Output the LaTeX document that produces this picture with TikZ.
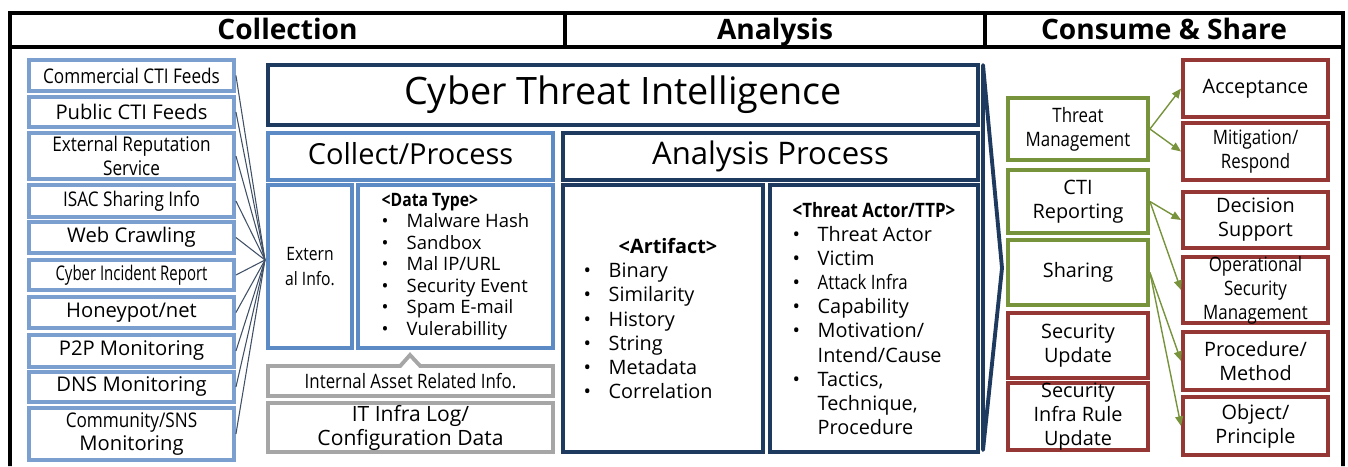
\documentclass[tikz,border=0pt]{standalone}
\usepackage{fontspec}
\setmainfont{Open Sans}
\newfontfamily\condfont{Open Sans}[FakeStretch=0.85]
\newfontfamily\xcondfont{Open Sans}[FakeStretch=0.74]
\usetikzlibrary{arrows.meta, positioning, shapes.callouts}
\definecolor{Cnavy}{HTML}{1F3A5F}
\definecolor{Cblue}{HTML}{5B8AC4}
\definecolor{Csrc}{HTML}{7BA0CF}
\definecolor{Cgreen}{HTML}{77933C}
\definecolor{Cred}{HTML}{953735}
\definecolor{Cgray}{HTML}{A6A6A6}
\definecolor{Cline}{HTML}{3F4F66}
\newcommand{\itm}{\makebox[0.5cm][l]{\textbullet}}
\newcommand{\itmc}{\hspace*{0.5cm}}
\tikzset{
  hdrbox/.style={draw=black, line width=2.2pt, outer sep=0pt, minimum height=0.68cm,
    text height=2.2ex, text depth=0.1ex, font=\fontsize{16}{18}\selectfont\bfseries},
  frame/.style={draw=black, line width=2.2pt},
  ttl/.style={text height=2.2ex, text depth=0.6ex},
  srcbox/.style={draw=Csrc, line width=2.2pt, fill=white, minimum width=4.1cm,
    align=center, inner sep=1pt, font=\fontsize{11.5}{13.5}\selectfont},
  cpbox/.style={draw=Cblue, line width=2.2pt, align=center, inner sep=1pt},
  navbox/.style={draw=Cnavy, line width=2.2pt, align=center, inner sep=1pt},
  grybox/.style={draw=Cgray, line width=2.2pt, align=center, inner sep=1pt,
    minimum width=5.7cm, font=\fontsize{12}{13.7}\selectfont},
  grnbox/.style={draw=Cgreen, line width=2.2pt, align=center, inner sep=1pt,
    minimum width=2.8cm, font=\fontsize{11.3}{13.7}\selectfont},
  redbox/.style={draw=Cred, line width=2.2pt, align=center, inner sep=1pt,
    minimum width=2.8cm, font=\fontsize{11.3}{13.7}\selectfont},
  tight/.style={inner ysep=-4pt},
  listtxt/.style={font=\fontsize{11.3}{13.7}\selectfont},
  feedline/.style={draw=Cline, line width=0.6pt},
  outarr/.style={-{Triangle[length=5.5pt, width=4.5pt]}, Cgreen, line width=0.8pt},
}
\begin{document}
\begin{tikzpicture}
\useasboundingbox (0,0) rectangle (26.96,-9.32);

%%==========================================================================
%% HEADER ROW
%%==========================================================================
\node[hdrbox, minimum width=11.1cm] (hcol) at (5.75,-0.6)  {Collection};
\node[hdrbox, minimum width=8.4cm]  (hana) at (15.5,-0.6)  {Analysis};
\node[hdrbox, minimum width=7.16cm] (hcon) at (23.28,-0.6) {Consume \& Share};
\coordinate (fbl) at (0.2,-9.32);
\coordinate (fbr) at (26.86,-9.32);
\draw[frame] (hcol.south west) -- (fbl);
\draw[frame] (hcon.south east) -- (fbr);

%%==========================================================================
%% COLLECTION — sources feeding external info
%%==========================================================================
\node[srcbox, minimum height=0.62cm] (s1)  at (2.63,-1.51) {\condfont Commercial CTI Feeds};
\node[srcbox, minimum height=0.6cm]  (s2)  at (2.63,-2.24) {Public CTI Feeds};
\node[srcbox, minimum height=0.92cm] (s3)  at (2.63,-3.12) {\condfont External Reputation\\\condfont Service};
\node[srcbox, minimum height=0.64cm] (s4)  at (2.63,-4.02) {\condfont ISAC Sharing Info};
\node[srcbox, minimum height=0.62cm] (s5)  at (2.63,-4.75) {Web Crawling};
\node[srcbox, minimum height=0.6cm]  (s6)  at (2.63,-5.5)  {\xcondfont Cyber Incident Report};
\node[srcbox, minimum height=0.62cm] (s7)  at (2.63,-6.25) {Honeypot/net};
\node[srcbox, minimum height=0.64cm] (s8)  at (2.63,-7.02) {P2P Monitoring};
\node[srcbox, minimum height=0.6cm]  (s9)  at (2.63,-7.74) {DNS Monitoring};
\node[srcbox, minimum height=1.04cm] (s10) at (2.63,-8.68) {\condfont Community/SNS\\Monitoring};

\coordinate (hub) at (5.3,-5.2);
\foreach \i in {1,...,10}
  \draw[feedline] (s\i.east) -- (hub);

%%==========================================================================
%% CYBER THREAT INTELLIGENCE core
%%==========================================================================
\node[navbox, minimum width=14.2cm, minimum height=1.2cm,
  font=\fontsize{21.5}{23}\selectfont] (cti) at (12.46,-1.9) {Cyber Threat Intelligence};

\node[cpbox, ttl, minimum width=5.7cm, minimum height=0.94cm,
  font=\fontsize{16.5}{18}\selectfont] (colp) at (8.21,-3.13) {Collect/Process};
\node[navbox, ttl, minimum width=8.3cm, minimum height=0.94cm,
  font=\fontsize{17.7}{19}\selectfont] (anap) at (15.41,-3.13) {Analysis Process};

\node[cpbox, minimum width=1.68cm, minimum height=3.26cm,
  font=\fontsize{10.5}{14}\selectfont\condfont] (ext) at (6.2,-5.33) {Extern\\al Info.};
\node[cpbox, minimum width=3.9cm, minimum height=3.26cm, align=left,
  font=\fontsize{10.5}{12.2}\selectfont] (dtype) at (9.11,-5.33)
  {\textbf{\condfont <Data Type>}\\
   \itm Malware Hash\\
   \itm Sandbox\\
   \itm Mal IP/URL\\
   \itm Security Event\\
   \itm Spam E-mail\\
   \itm Vulerabillity};

\node[grybox, minimum height=0.6cm, rectangle callout,
  callout absolute pointer={(8.2,-7.1)}, callout pointer width=0.4cm,
  font=\fontsize{11.3}{13}\selectfont\condfont]
  (intasset) at (8.21,-7.62) {Internal Asset Related Info.};
\node[grybox, minimum height=0.98cm] (itlog) at (8.21,-8.55)
  {IT Infra Log/\\Configuration Data};

\node[navbox, minimum width=4.0cm, minimum height=5.34cm, align=left, listtxt]
  (art) at (13.26,-6.37)
  {\hspace*{0.7cm}\textbf{<Artifact>}\hspace*{0.5cm}\\
   \itm Binary\\
   \itm Similarity\\
   \itm History\\
   \itm String\\
   \itm Metadata\\
   \itm Correlation};
\node[navbox, minimum width=4.16cm, minimum height=5.34cm, align=left, listtxt]
  (ttp) at (17.48,-6.37)
  {\textbf{\condfont <Threat Actor/TTP>}\\
   \itm Threat Actor\\
   \itm Victim\\
   \itm {\condfont Attack Infra}\\
   \itm Capability\\
   \itm Motivation/\\
   \itmc Intend/Cause\\
   \itm Tactics,\\
   \itmc Technique,\\
   \itmc Procedure};

%% chevron into consume & share
\coordinate (chvt) at (19.66,-1.3);
\coordinate (chvp) at (20.04,-5.36);
\coordinate (chvb) at (19.66,-9.0);
\draw[Cnavy, line width=2.2pt, line join=round] (chvt) -- (chvp) -- (chvb) -- cycle;

%%==========================================================================
%% CONSUME & SHARE
%%==========================================================================
\node[grnbox, minimum height=1.24cm] (tm)   at (21.56,-2.58) {\condfont Threat\\\condfont Management};
\node[grnbox, minimum height=1.26cm] (rep)  at (21.56,-4.03) {CTI\\Reporting};
\node[grnbox, minimum height=1.3cm]  (shr)  at (21.56,-5.45) {Sharing};
\node[redbox, minimum height=1.3cm]  (su)   at (21.56,-6.91) {Security\\Update};
\node[redbox, tight, minimum height=1.34cm] (siru) at (21.56,-8.33) {Security\\Infra Rule\\Update};

\node[redbox, minimum width=2.9cm, minimum height=1.14cm] (acc)  at (25.11,-1.77) {Acceptance};
\node[redbox, minimum width=2.9cm, minimum height=1.14cm] (mit)  at (25.11,-3.03) {\condfont Mitigation/\\\condfont Respond};
\node[redbox, minimum width=2.9cm, minimum height=1.12cm] (dec)  at (25.11,-4.4)  {Decision\\Support};
\node[redbox, tight, minimum width=2.9cm, minimum height=1.32cm] (ops) at (25.11,-5.8)
  {\condfont Operational\\\condfont Security\\\condfont Management};
\node[redbox, minimum width=2.9cm, minimum height=1.16cm] (proc) at (25.11,-7.22) {Procedure/\\Method};
\node[redbox, minimum width=2.9cm, minimum height=1.16cm] (obj)  at (25.11,-8.52) {Object/\\Principle};

\draw[outarr] (tm.east)  -- (acc.west);
\draw[outarr] (tm.east)  -- (mit.west);
\draw[outarr] (rep.east) -- (dec.west);
\draw[outarr] (rep.east) -- (ops.west);
\draw[outarr] (shr.east) -- (proc.west);
\draw[outarr] (shr.east) -- (obj.west);

\end{tikzpicture}
\end{document}
